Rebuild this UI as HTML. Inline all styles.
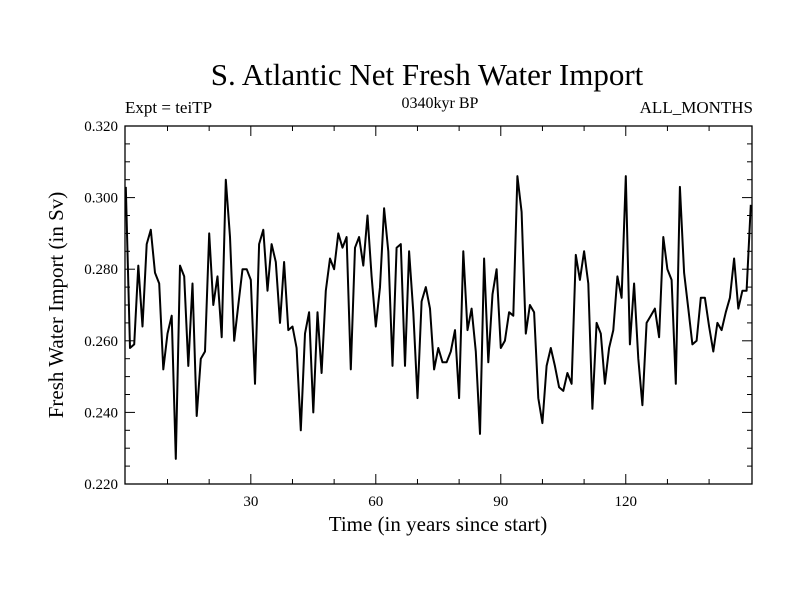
<!DOCTYPE html>
<html><head><meta charset="utf-8"><style>
html,body{margin:0;padding:0;background:#fff;}
svg{display:block;font-family:"Liberation Serif",serif;}
</style></head><body>
<svg id="chart" width="800" height="600" viewBox="0 0 800 600">
<rect x="0" y="0" width="800" height="600" fill="#fff"/>
<text x="427" y="85" font-size="31" text-anchor="middle">S. Atlantic Net Fresh Water Import</text>
<text x="125" y="113" font-size="17">Expt = teiTP</text>
<text x="440" y="108" font-size="16" text-anchor="middle">0340kyr BP</text>
<text x="753" y="113" font-size="17" text-anchor="end">ALL_MONTHS</text>
<text x="438" y="531" font-size="21" text-anchor="middle">Time (in years since start)</text>
<text x="0" y="0" font-size="21" text-anchor="middle" transform="translate(63,305) rotate(-90)">Fresh Water Import (in Sv)</text>
<g id="axes"></g>
<g id="series"></g>
</svg>
<script>
const years = [];
for (let i = 0; i <= 150; i++) years.push(i);
const importValues = [
0.303,0.258,0.259,0.281,0.264,0.287,0.291,0.279,0.276,0.252,
0.262,0.267,0.227,0.281,0.278,0.253,0.276,0.239,0.255,0.257,
0.290,0.270,0.278,0.261,0.305,0.289,0.260,0.270,0.280,0.280,
0.277,0.248,0.287,0.291,0.274,0.287,0.282,0.265,0.282,0.263,
0.264,0.258,0.235,0.262,0.268,0.240,0.268,0.251,0.274,0.283,
0.280,0.290,0.286,0.289,0.252,0.286,0.289,0.281,0.295,0.278,
0.264,0.275,0.297,0.285,0.253,0.286,0.287,0.253,0.285,0.268,
0.244,0.271,0.275,0.269,0.252,0.258,0.254,0.254,0.257,0.263,
0.244,0.285,0.263,0.269,0.257,0.234,0.283,0.254,0.273,0.280,
0.258,0.260,0.268,0.267,0.306,0.296,0.262,0.270,0.268,0.244,
0.237,0.253,0.258,0.253,0.247,0.246,0.251,0.248,0.284,0.277,
0.285,0.276,0.241,0.265,0.262,0.248,0.258,0.263,0.278,0.272,
0.306,0.259,0.276,0.255,0.242,0.265,0.267,0.269,0.261,0.289,
0.280,0.277,0.248,0.303,0.279,0.269,0.259,0.260,0.272,0.272,
0.264,0.257,0.265,0.263,0.268,0.272,0.283,0.269,0.274,0.274,
0.298];
const yTickValues = [0.22,0.24,0.26,0.28,0.30,0.32];
const yTickLabels = ["0.220","0.240","0.260","0.280","0.300","0.320"];
const xTickValues = [30,60,90,120];
const xTickLabels = ["30","60","90","120"];

const L=125,R=752,T=126,B=484;
const X0=-0.2,X1=150.3,Y0=0.22,Y1=0.32;
function xs(t){return L+(t-X0)/(X1-X0)*(R-L);}
function ys(v){return B-(v-Y0)/(Y1-Y0)*(B-T);}
const NS="http://www.w3.org/2000/svg";
const axes=document.getElementById('axes');
function mk(tag,attrs,parent){const e=document.createElementNS(NS,tag);for(const k in attrs)e.setAttribute(k,attrs[k]);parent.appendChild(e);return e;}

const frame=mk('rect',{x:L,y:T,width:R-L,height:B-T,fill:'none',stroke:'#000','stroke-width':1.3},axes);



// minor y ticks every 0.005
for(let k=0;k<=20;k++){
  const v=Y0+k*0.005, y=ys(v), len=(k%4===0)?10:5;
  const a=mk('line',{x1:L,x2:L+len,y1:y,y2:y,stroke:'#000','stroke-width':1},axes);
  
  
  const b=mk('line',{x1:R,x2:R-len,y1:y,y2:y,stroke:'#000','stroke-width':1},axes);
  
  
}
yTickValues.forEach((v,i)=>{
  const t=mk('text',{x:L-7,y:ys(v)+5,'font-size':15,'text-anchor':'end'},axes);
  t.textContent=yTickLabels[i];
  
  
});
// x ticks every 10
for(let t=10;t<150;t+=10){
  const x=xs(t), len=(t%30===0)?10:5;
  const a=mk('line',{x1:x,x2:x,y1:B,y2:B-len,stroke:'#000','stroke-width':1},axes);
  
  
  const b=mk('line',{x1:x,x2:x,y1:T,y2:T+len,stroke:'#000','stroke-width':1},axes);
  
  
}
xTickValues.forEach((v,i)=>{
  const t=mk('text',{x:xs(v),y:B+22,'font-size':15,'text-anchor':'middle'},axes);
  t.textContent=xTickLabels[i];
  
  
});

const series=document.getElementById('series');
const pts=importValues.map((v,i)=>xs(years[i]).toFixed(1)+','+ys(v).toFixed(1)).join(' ');
const line=mk('polyline',{points:pts,fill:'none',stroke:'#000','stroke-width':2,'stroke-linejoin':'round'},series);


</script>
</body></html>
